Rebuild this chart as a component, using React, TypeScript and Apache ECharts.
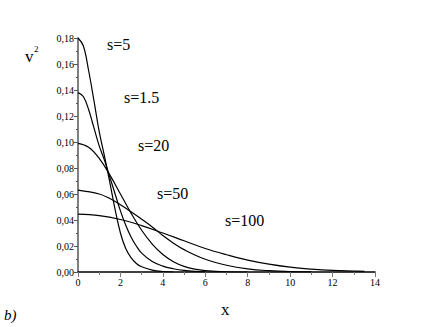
import React, { useEffect, useRef } from "react";
import * as echarts from "echarts";

const xTicks = [0, 2, 4, 6, 8, 10, 12, 14];
const yTicks = [0, 0.02, 0.04, 0.06, 0.08, 0.1, 0.12, 0.14, 0.16, 0.18];

// s = 5 (narrowest, highest peak)
const xA = [0, 0.25, 0.5, 0.75, 1.0, 1.25, 1.5, 1.75, 2.0, 2.25, 2.5, 2.75, 3.0, 3.5, 4.0, 4.5];
const vA = [0.18, 0.174, 0.155, 0.132, 0.108, 0.089, 0.069, 0.048, 0.03, 0.018, 0.011, 0.0065, 0.004, 0.0015, 0.0004, 0.0];
// s = 1.5
const xB = [0, 0.25, 0.5, 0.75, 1.0, 1.25, 1.5, 1.75, 2.0, 2.25, 2.5, 2.75, 3.0, 3.5, 4.0, 4.5, 5.0, 5.5, 6.0];
const vB = [0.138, 0.135, 0.125, 0.111, 0.097, 0.086, 0.073, 0.06, 0.047, 0.036, 0.027, 0.02, 0.0145, 0.008, 0.0045, 0.0025, 0.0012, 0.0005, 0.0002];
// s = 20
const xC = [0, 0.5, 1.0, 1.5, 2.0, 2.5, 3.0, 3.5, 4.0, 4.5, 5.0, 5.5, 6.0, 7.0, 8.0];
const vC = [0.099, 0.096, 0.0874, 0.0747, 0.06, 0.0453, 0.0321, 0.0215, 0.0134, 0.0079, 0.0043, 0.0022, 0.0011, 0.0002, 0.0];
// s = 50
const xD = [0, 1.0, 1.5, 2.0, 2.5, 3.0, 3.5, 4.0, 4.5, 5.0, 6.0, 7.0, 8.0, 9.0, 10.0, 11.0];
const vD = [0.063, 0.06, 0.0565, 0.0518, 0.0464, 0.0406, 0.0346, 0.028, 0.0222, 0.0172, 0.0098, 0.0052, 0.0024, 0.001, 0.0003, 0.0001];
// s = 100 (widest)
const xE = [0, 1, 2, 3, 4, 5, 6, 7, 8, 9, 10, 11, 12, 13, 13.5];
const vE = [0.0445, 0.0434, 0.0404, 0.0357, 0.03, 0.024, 0.0181, 0.0133, 0.0091, 0.006, 0.0037, 0.0022, 0.0012, 0.0007, 0.0005];

const curveNames = ["s=5", "s=1.5", "s=20", "s=50", "s=100"];
const curveX = [xA, xB, xC, xD, xE];
const curveV = [vA, vB, vC, vD, vE];

export default function App() {
  const ref = useRef<HTMLDivElement>(null);
  useEffect(() => {
    document.body.style.margin = "0";
    if (!ref.current) return;
    const chart = echarts.init(ref.current, undefined, { renderer: "svg" });
    const serif = "Times New Roman, serif";
    const labelPos = [
      [107, 50],
      [124, 103],
      [138, 151],
      [157, 199],
      [225, 226],
    ];
    chart.setOption({
      animation: false,
      backgroundColor: "#ffffff",
      textStyle: { fontFamily: serif },
      grid: { left: 78, right: 61, top: 38, bottom: 55 },
      xAxis: {
        type: "value",
        min: 0,
        max: 14,
        interval: 2,
        axisLine: { show: true, lineStyle: { color: "#000", width: 1.5 } },
        axisTick: { show: true, length: 5, lineStyle: { color: "#777", width: 1 } },
        minorTick: { show: true, splitNumber: 2, length: 3, lineStyle: { color: "#777", width: 1 } },
        splitLine: { show: false },
        axisLabel: {
          color: "#000",
          fontFamily: serif,
          fontSize: 10,
          margin: 5,
          formatter: (v: number) => (xTicks.includes(v) ? String(v) : ""),
        },
      },
      yAxis: {
        type: "value",
        min: 0,
        max: 0.18,
        interval: 0.02,
        axisLine: { show: true, lineStyle: { color: "#808080", width: 2 } },
        axisTick: { show: true, length: 4, lineStyle: { color: "#555", width: 1 } },
        minorTick: { show: true, splitNumber: 2, length: 2, lineStyle: { color: "#555", width: 1 } },
        splitLine: { show: false },
        axisLabel: {
          color: "#000",
          fontFamily: serif,
          fontSize: 10,
          margin: 4,
          formatter: (v: number) => {
            const t = yTicks.find((y) => Math.abs(y - v) < 1e-9);
            return t === undefined ? "" : t.toFixed(2).replace(".", ",");
          },
        },
      },
      series: curveNames.map((name, i) => ({
        name,
        type: "line",
        smooth: 0.4,
        showSymbol: false,
        symbol: "none",
        lineStyle: { color: "#000", width: 1.2 },
        data: curveX[i].map((x, j) => [x, curveV[i][j]]),
      })),
      graphic: [
        ...curveNames.map((name, i) => ({
          type: "text",
          left: labelPos[i][0],
          top: labelPos[i][1] - 14,
          style: { text: name, fontFamily: serif, fontSize: 16, fill: "#000" },
        })),
        {
          type: "text",
          left: 25,
          top: 48,
          style: { text: "v", fontFamily: serif, fontSize: 17, fill: "#000" },
        },
        {
          type: "text",
          left: 34,
          top: 44,
          style: { text: "2", fontFamily: serif, fontSize: 9, fill: "#000" },
        },
        {
          type: "text",
          left: 221,
          top: 301,
          style: { text: "x", fontFamily: serif, fontSize: 17, fill: "#000" },
        },
        {
          type: "text",
          left: 4,
          top: 307,
          style: { text: "b)", fontFamily: serif, fontSize: 15, fontStyle: "italic", fill: "#000" },
        },
      ],
    });
    return () => chart.dispose();
  }, []);
  return <div ref={ref} style={{ width: 436, height: 327 }} />;
}
